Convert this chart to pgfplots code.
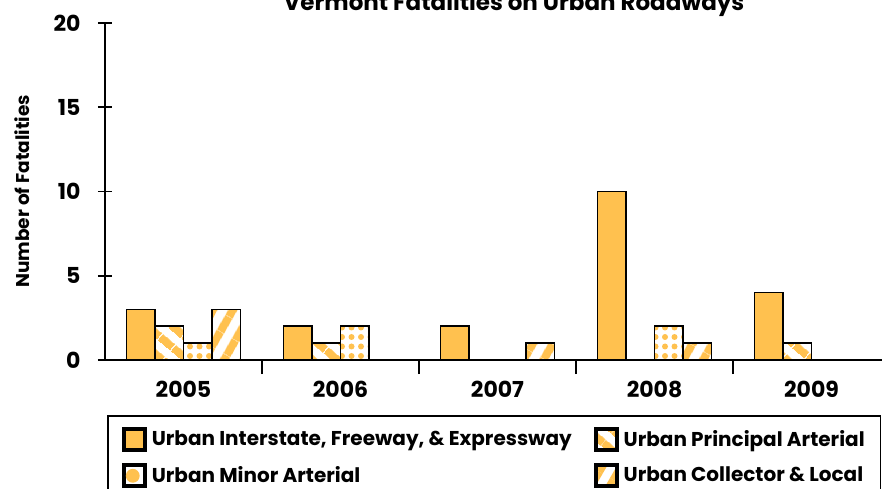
\documentclass[border=0pt]{standalone}
\usepackage{fontspec}
\setmainfont{Poppins}
\usepackage{pgfplots}
\pgfplotsset{compat=1.18}
\usetikzlibrary{patterns,patterns.meta}
\definecolor{barorange}{RGB}{255,193,79}
\begin{document}
\begin{tikzpicture}[x=1pt,y=1pt]
\useasboundingbox (0,0) rectangle (882,489);
\clip (0,0) rectangle (882,489);
\begin{axis}[
  at={(105pt,129pt)}, anchor=south west,
  scale only axis, width=785pt, height=337pt,
  xmin=-0.5, xmax=4.5, ymin=0, ymax=20,
  axis x line=bottom, axis y line=left,
  axis line style={-, line width=1.6pt},
  ytick={0,5,10,15,20},
  xtick={0,1,2,3,4}, xticklabels={2005,2006,2007,2008,2009},
  minor xtick={0.5,1.5,2.5,3.5},
  tick align=center,
  major tick length=14pt, minor tick length=14pt,
  major x tick style={draw=none},
  tick style={line width=1.6pt, black},
  /pgf/number format/assume math mode=true,
  ticklabel style={font=\bfseries\fontsize{22}{22}\selectfont},
  yticklabel style={xshift=-14pt},
  xticklabel style={yshift=-4pt},
  ylabel={Number of Fatalities},
  ylabel style={at={(axis description cs:-0.106,0.5)}, anchor=center, font=\bfseries\fontsize{18.5}{18.5}\selectfont},
  title={Vermont Fatalities on Urban Roadways},
  title style={at={(axis description cs:0.521,1)}, anchor=base, yshift=6pt, font=\bfseries\fontsize{23}{23}\selectfont},
  ybar=0pt, bar width=28.5pt,
  legend style={at={(axis description cs:0.0025,-0.1632)}, anchor=north west,
    font=\bfseries\fontsize{20}{24}\selectfont, draw=black, line width=1.6pt,
    inner xsep=14pt, inner ysep=11pt, row sep=11pt,
    /tikz/every odd column/.append style={column sep=3pt},
    /tikz/every even column/.append style={column sep=20pt}},
  legend columns=2, legend cell align=left,
  legend image code/.code={\draw[#1, line width=4pt] (0pt,-11pt) rectangle (21pt,10pt);},
]
\addplot[draw=black, line width=1.8pt, fill=barorange]
  coordinates {(0,3) (1,2) (2,2) (3,10) (4,4)};
\addplot[draw=black, line width=1.8pt, pattern={Lines[angle=-40, distance=17pt, line width=8.5pt]}, pattern color=barorange]
  coordinates {(0,2) (1,1) (4,1)};
\addplot[draw=black, line width=1.8pt, pattern={Dots[distance=9.5pt, radius=3pt]}, pattern color=barorange,
  legend image code/.code={\draw[black, line width=4pt, fill=white] (0pt,-11pt) rectangle (21pt,10pt); \fill[barorange] (9pt,-1pt) circle (6pt);}]
  coordinates {(0,1) (1,2) (3,2)};
\addplot[draw=black, line width=1.8pt, pattern={Lines[angle=60, distance=17pt, line width=8.5pt]}, pattern color=barorange]
  coordinates {(0,3) (2,1) (3,1)};
\legend{{Urban Interstate, Freeway, \& Expressway}, {Urban Principal Arterial}, {Urban Minor Arterial}, {Urban Collector \& Local}}
\end{axis}
\end{tikzpicture}
\end{document}
